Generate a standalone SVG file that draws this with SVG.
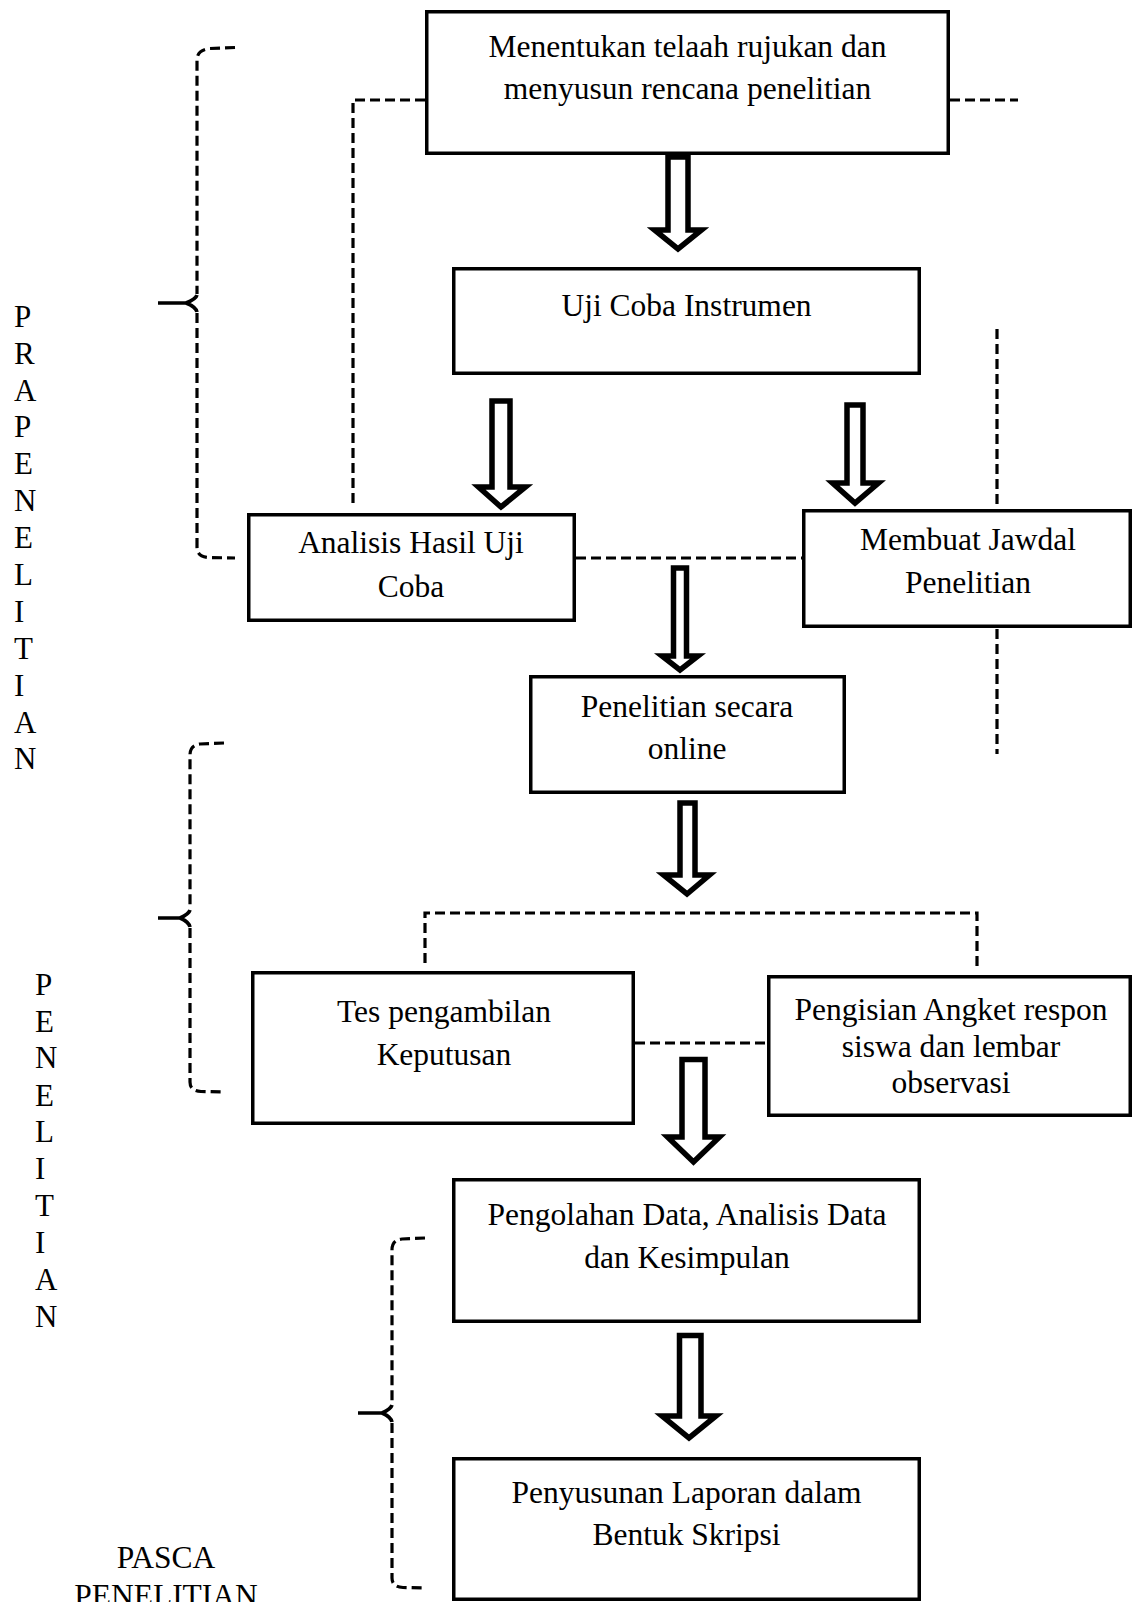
<svg xmlns="http://www.w3.org/2000/svg" width="1134" height="1602" viewBox="0 0 1134 1602">
<style>
  .box { fill: #fff; stroke: #000; stroke-width: 3.5; }
  .t { font-family: "Liberation Serif", "Times New Roman", serif; font-size: 31.5px; fill: #000; text-anchor: middle; }
  .v { font-family: "Liberation Serif", "Times New Roman", serif; font-size: 31px; fill: #000; }
  .dash { fill: none; stroke: #000; stroke-width: 3.2; stroke-dasharray: 10 5; }
  .tip { fill: none; stroke: #000; stroke-width: 3.6; }
  .arrow { fill: #fff; stroke: #000; stroke-width: 5.5; stroke-linejoin: miter; stroke-miterlimit: 10; }
</style>
<rect width="1134" height="1602" fill="#fff"/>

<g id="connectors">
  <path class="dash" d="M425,100 L353,100 L353,507"/>
  <path class="dash" d="M950,100 L1018,100"/>
  <path class="dash" d="M576,558 L802,558"/>
  <path class="dash" d="M997,329 L997,754"/>
  <path class="dash" d="M425,963 L425,913 L977,913 L977,969"/>
  <path class="dash" d="M635,1043 L767,1043"/>
  <!-- braces -->
  <path class="dash" d="M235,47.5 L210,48.5 Q197,50 197,60 L197,294"/>
  <path class="dash" d="M197,313 L197,547 Q197,557 209,557.5 L235,558"/>
  <path class="tip" d="M158,303 L186,303 M197,295 Q196,299 186,303 Q196,307 197,312"/>
  <path class="dash" d="M224,743 L200,744 Q190,745 190,755 L190,909"/>
  <path class="dash" d="M190,928 L190,1082 Q190,1091 201,1091.5 L224,1092"/>
  <path class="tip" d="M158,918 L180,918 M190,910 Q189,914 180,918 Q189,922 190,927"/>
  <path class="dash" d="M425,1238 L402,1239 Q392,1240 392,1250 L392,1404"/>
  <path class="dash" d="M392,1423 L392,1578 Q392,1587 403,1587.5 L425,1588"/>
  <path class="tip" d="M358,1413 L382,1413 M392,1405 Q391,1409 382,1413 Q391,1417 392,1422"/>
  <!-- block arrows -->
  <path class="arrow" d="M668,157 L668,230 L654.5,230 L678,249 L701.5,230 L688,230 L688,157 Z"/>
  <path class="arrow" d="M492,401 L492,487 L478.5,487 L501,507 L525.5,487 L510,487 L510,401 Z"/>
  <path class="arrow" d="M847,405 L847,483 L832.5,483 L855,503 L878.5,483 L863,483 L863,405 Z"/>
  <path class="arrow" d="M673.5,568 L673.5,656 L662,656 L680,670 L698,656 L686.5,656 L686.5,568 Z"/>
  <path class="arrow" d="M680,803 L680,875 L663.5,875 L687,894 L709.5,875 L695,875 L695,803 Z"/>
  <path class="arrow" d="M682,1059.5 L682,1137 L667.5,1137 L693.5,1162 L719.5,1137 L705,1137 L705,1059.5 Z"/>
  <path class="arrow" d="M679.5,1335.5 L679.5,1416 L662,1416 L689,1438 L716,1416 L701,1416 L701,1335.5 Z"/>
</g>

<g id="node-menentukan">
  <rect class="box" x="426.75" y="11.75" width="521.5" height="141.5"/>
  <text class="t" x="687.5" y="57">Menentukan telaah rujukan dan</text>
  <text class="t" x="687.5" y="99">menyusun rencana penelitian</text>
</g>
<g id="node-ujicoba">
  <rect class="box" x="453.75" y="268.75" width="465.5" height="104.5"/>
  <text class="t" x="686.5" y="316">Uji Coba Instrumen</text>
</g>
<g id="node-analisis">
  <rect class="box" x="248.75" y="514.75" width="325.5" height="105.5"/>
  <text class="t" x="411" y="553">Analisis Hasil Uji</text>
  <text class="t" x="411" y="597">Coba</text>
</g>
<g id="node-membuat">
  <rect class="box" x="803.75" y="510.75" width="326.5" height="115.5"/>
  <text class="t" x="968" y="550">Membuat Jawdal</text>
  <text class="t" x="968" y="593">Penelitian</text>
</g>
<g id="node-online">
  <rect class="box" x="530.75" y="676.75" width="313.5" height="115.5"/>
  <text class="t" x="687" y="717">Penelitian secara</text>
  <text class="t" x="687" y="759">online</text>
</g>
<g id="node-tes">
  <rect class="box" x="252.75" y="972.75" width="380.5" height="150.5"/>
  <text class="t" x="444" y="1022">Tes pengambilan</text>
  <text class="t" x="444" y="1065">Keputusan</text>
</g>
<g id="node-angket">
  <rect class="box" x="768.75" y="976.75" width="361.5" height="138.5"/>
  <text class="t" x="951" y="1020">Pengisian Angket respon</text>
  <text class="t" x="951" y="1057">siswa dan lembar</text>
  <text class="t" x="951" y="1093">observasi</text>
</g>
<g id="node-pengolahan">
  <rect class="box" x="453.75" y="1179.75" width="465.5" height="141.5"/>
  <text class="t" x="687" y="1225">Pengolahan Data, Analisis Data</text>
  <text class="t" x="687" y="1268">dan Kesimpulan</text>
</g>
<g id="node-penyusunan">
  <rect class="box" x="453.75" y="1458.75" width="465.5" height="140.5"/>
  <text class="t" x="686.5" y="1503">Penyusunan Laporan dalam</text>
  <text class="t" x="686.5" y="1545">Bentuk Skripsi</text>
</g>

<g id="label-prapenelitian">
  <text class="v" x="14" y="327">P</text>
  <text class="v" x="14" y="364">R</text>
  <text class="v" x="14" y="401">A</text>
  <text class="v" x="14" y="437">P</text>
  <text class="v" x="14" y="474">E</text>
  <text class="v" x="14" y="511">N</text>
  <text class="v" x="14" y="548">E</text>
  <text class="v" x="14" y="585">L</text>
  <text class="v" x="14" y="622">I</text>
  <text class="v" x="14" y="659">T</text>
  <text class="v" x="14" y="696">I</text>
  <text class="v" x="14" y="733">A</text>
  <text class="v" x="14" y="769">N</text>
</g>
<g id="label-penelitian">
  <text class="v" x="35" y="995">P</text>
  <text class="v" x="35" y="1032">E</text>
  <text class="v" x="35" y="1068">N</text>
  <text class="v" x="35" y="1106">E</text>
  <text class="v" x="35" y="1142">L</text>
  <text class="v" x="35" y="1179">I</text>
  <text class="v" x="35" y="1216">T</text>
  <text class="v" x="35" y="1253">I</text>
  <text class="v" x="35" y="1290">A</text>
  <text class="v" x="35" y="1327">N</text>
</g>
<g id="label-pasca">
  <text class="t" x="166" y="1568">PASCA</text>
  <text class="t" x="166" y="1606">PENELITIAN</text>
</g>
</svg>
